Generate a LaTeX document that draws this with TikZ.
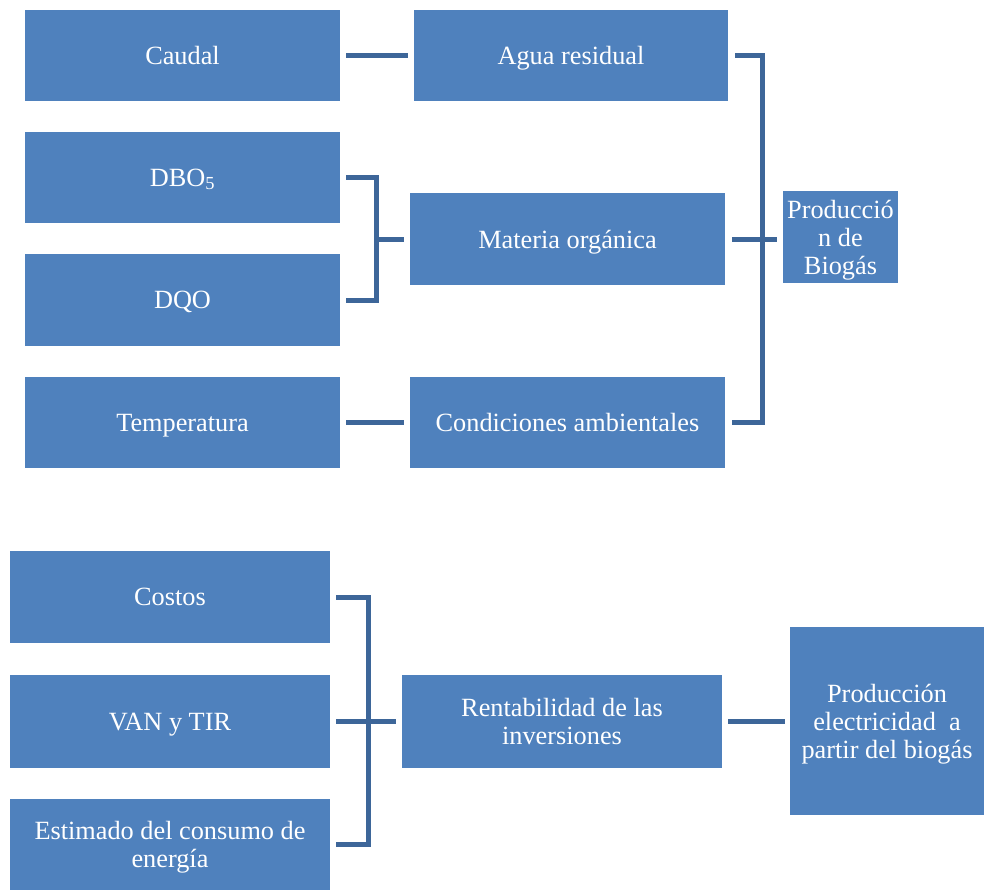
\documentclass[tikz,border=0pt]{standalone}
\usepackage{fontspec}
\setmainfont{Liberation Serif}
\definecolor{boxblue}{HTML}{4F81BD}
\definecolor{linkblue}{HTML}{3D6699}
\begin{document}
\begin{tikzpicture}[x=1pt,y=-1pt,
  box/.style={fill=boxblue, draw=none, inner sep=0pt, text=white, align=center,
    text depth=0pt, font=\fontsize{26.3}{28}\selectfont},
  link/.style={draw=linkblue, line width=5pt}]
\useasboundingbox (0,0) rectangle (984,892);

% upper group: biogas production factors
\node[box, minimum width=315pt, minimum height=91pt] (caudal) at (182.5,55.5) {Caudal};
\node[box, minimum width=314pt, minimum height=91pt] (agua) at (571,55.5) {Agua residual};
\node[box, minimum width=315pt, minimum height=91pt] (dbo) at (182.5,177.5) {DBO\textsubscript{5}};
\node[box, minimum width=315pt, minimum height=92pt] (dqo) at (182.5,300) {DQO};
\node[box, minimum width=315pt, minimum height=92pt] (materia) at (567.5,239) {Materia orgánica};
\node[box, minimum width=315pt, minimum height=91pt] (temp) at (182.5,422.5) {Temperatura};
\node[box, minimum width=315pt, minimum height=91pt] (cond) at (567.5,422.5) {Condiciones ambientales};
\node[box, minimum width=115pt, minimum height=92pt] (biogas) at (840.5,237) {Producció\\n de\\Biogás};

% lower group: electricity from biogas
\node[box, minimum width=320pt, minimum height=92pt] (costos) at (170,597) {Costos};
\node[box, minimum width=320pt, minimum height=93pt] (van) at (170,721.5) {VAN y TIR};
\node[box, minimum width=320pt, minimum height=91pt] (estimado) at (170,844.5) {Estimado del consumo de\\energía};
\node[box, minimum width=320pt, minimum height=93pt] (rent) at (562,721.5) {Rentabilidad de las\\inversiones};
\node[box, minimum width=194pt, minimum height=188pt] (elec) at (887,721) {Producción\\electricidad\ \ a\\partir del biogás};

% bracket spines
\coordinate (spineA) at (376,0);
\coordinate (spineB) at (762,0);
\coordinate (spineC) at (368,0);

% upper connectors
\draw[link, shorten <=6pt, shorten >=6pt] (caudal.east) -- (agua.west);
\draw[link, shorten <=6pt, shorten >=6pt] (temp.east) -- (cond.west);
\draw[link] ([xshift=6pt]dbo.east) -| (spineA |- dqo.east) -- ([xshift=6pt]dqo.east);
\draw[link] (spineA |- materia.west) -- ([xshift=-6pt]materia.west);
\draw[link] ([xshift=7pt]agua.east) -| (spineB |- cond.east) -- ([xshift=7pt]cond.east);
\draw[link] ([xshift=7pt]materia.east) -- ([xshift=-6pt]biogas.west |- materia.east);

% lower connectors
\draw[link] ([xshift=6pt]costos.east) -| (spineC |- estimado.east) -- ([xshift=6pt]estimado.east);
\draw[link, shorten <=6pt, shorten >=6pt] (van.east) -- (rent.west);
\draw[link, shorten <=6pt, shorten >=5pt] (rent.east) -- (elec.west |- rent.east);
\end{tikzpicture}
\end{document}
